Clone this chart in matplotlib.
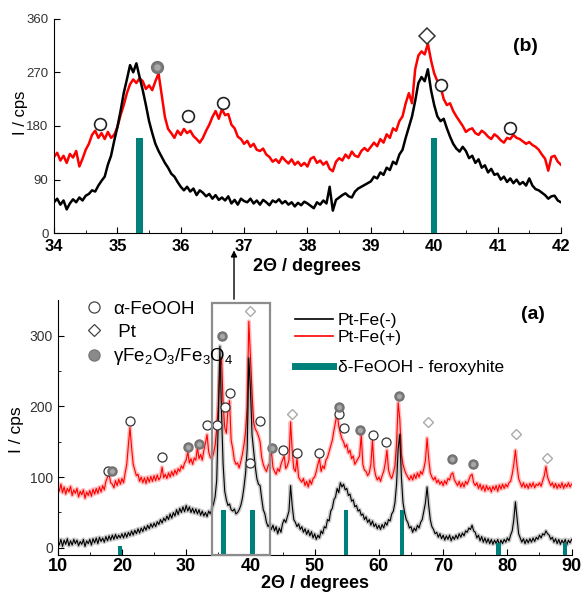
"""XRD patterns of Pt-Fe(-) and Pt-Fe(+) with a zoom on the 34-42 deg window."""

import matplotlib

matplotlib.use("Agg")
import matplotlib.pyplot as plt
import numpy as np
from matplotlib.lines import Line2D
from matplotlib.patches import FancyArrowPatch, Rectangle

plt.rcParams["font.family"] = ["Liberation Sans", "DejaVu Sans"]
plt.rcParams["mathtext.default"] = "regular"

RED = "#ff0000"
TEAL = "#00807a"

# --- (b) zoomed window, 34-42 deg, 0.05 deg steps -------------------------
top_red = [
    128, 135, 122, 130, 118, 133, 127, 138, 112, 125,
    140, 150, 165, 172, 160, 168, 158, 170, 160, 165,
    178, 198, 215, 235, 250, 258, 252, 260, 255, 242,
    248, 240, 255, 268, 232, 195, 175, 168, 160, 172,
    165, 175, 168, 172, 163, 158, 152, 160, 172, 182,
    195, 205, 192, 208, 198, 200, 182, 176, 162, 158,
    150, 155, 145, 150, 140, 138, 142, 132, 128, 120,
    124, 118, 128, 122, 117, 124, 115, 120, 113, 118,
    112, 125, 128, 118, 122, 115, 120, 108, 104, 120,
    126, 122, 132, 126, 137, 130, 128, 138, 143, 138,
    145, 152, 146, 158, 152, 166, 160, 176, 172, 188,
    196, 218, 235, 218, 275, 298, 305, 300, 318, 290,
    268, 255, 246, 225, 215, 218, 205, 196, 188, 180,
    170, 174, 176, 168, 165, 172, 168, 162, 158, 166,
    162, 156, 152, 160, 158, 165, 160, 158, 154, 150,
    153, 148, 145, 140, 132, 125, 105, 128, 130, 120,
    115,
]
top_black = [
    52, 58, 48, 55, 40, 50, 57, 52, 60, 55,
    63, 66, 72, 70, 80, 88, 95, 115, 130, 155,
    178, 205, 235, 258, 282, 270, 285, 262, 240, 215,
    188, 168, 150, 138, 128, 118, 110, 100, 95, 86,
    78, 72, 78, 70, 75, 64, 72, 68, 62, 66,
    58, 64, 56, 60, 55, 62, 50, 56, 48, 58,
    54, 52, 58, 50, 55, 48, 56, 52, 47, 55,
    52, 57, 50, 54, 48, 52, 45, 51, 47, 53,
    50, 46, 42, 52, 48, 55, 50, 78, 38, 56,
    60, 64, 67, 62, 60, 70, 75, 78, 81, 84,
    87, 95, 92, 102, 98, 110, 106, 120, 116, 132,
    140, 160, 178, 196, 222, 252, 262, 255, 275, 240,
    215, 196, 188, 192, 176, 162, 150, 142, 137, 145,
    138, 126, 130, 118, 124, 110, 114, 102, 108, 98,
    100, 90, 95, 86, 92, 84, 90, 82, 86, 80,
    92, 80, 74, 72, 68, 64, 58, 62, 63, 55,
    52,
]

# --- (a) full scan, 10-90 deg, 0.25 deg steps ------------------------------
full_red = [
    88, 80, 90, 78, 86, 76, 84, 79, 87, 74, 82, 77, 84, 72, 80, 75, 82, 70, 79, 74,
    81, 73, 83, 76, 84, 77, 86, 79, 88, 82, 94, 100, 104, 92, 90, 85, 95, 88, 97, 90,
    98, 92, 106, 118, 145, 170, 142, 118, 110, 102, 104, 94, 100, 92, 99, 91, 100, 93, 101, 94,
    102, 95, 103, 96, 100, 114, 99, 104, 98, 106, 100, 108, 102, 110, 104, 112, 108, 116, 112, 120,
    124, 136, 120, 126, 118, 127, 124, 142, 126, 132, 124, 138, 148, 160, 136, 128, 126, 133, 145, 168,
    200, 255, 268, 205, 170, 162, 195, 208, 152, 140, 124, 118, 120, 113, 122, 132, 146, 165, 200, 320,
    272, 218, 178, 168, 164, 158, 150, 128, 118, 112, 108, 116, 120, 138, 114, 108, 104, 112, 108, 118,
    124, 130, 112, 116, 124, 178, 138, 112, 108, 126, 100, 96, 93, 98, 88, 94, 86, 96, 90, 98,
    100, 108, 118, 126, 108, 116, 112, 124, 128, 136, 144, 152, 166, 178, 190, 172, 162, 154, 150, 142,
    146, 134, 138, 126, 130, 118, 122, 126, 130, 160, 118, 110, 108, 102, 106, 118, 152, 114, 102, 96,
    100, 94, 102, 108, 120, 138, 110, 102, 98, 106, 116, 148, 205, 182, 132, 118, 110, 104, 100, 96,
    102, 96, 104, 98, 106, 100, 108, 104, 112, 124, 155, 126, 106, 100, 96, 100, 92, 96, 90, 94,
    88, 95, 90, 98, 96, 104, 106, 96, 92, 88, 94, 86, 92, 86, 94, 90, 96, 102, 104, 92,
    88, 92, 84, 90, 82, 88, 80, 88, 82, 86, 79, 87, 82, 88, 80, 89, 83, 90, 84, 90,
    86, 92, 94, 104, 118, 138, 116, 98, 92, 86, 92, 85, 90, 84, 91, 86, 92, 85, 90, 88,
    92, 87, 95, 102, 115, 100, 94, 88, 92, 85, 91, 84, 90, 85, 92, 84, 90, 86, 92, 86,
    90,
]
full_black = [
    10, 4, 12, 2, 11, 5, 13, 3, 10, 4, 12, 6, 11, 3, 9, 5, 12, 2, 10, 6,
    12, 4, 13, 7, 14, 6, 15, 9, 14, 8, 16, 10, 17, 11, 18, 12, 19, 13, 18, 14,
    20, 14, 21, 15, 22, 17, 24, 18, 25, 20, 27, 21, 28, 23, 30, 25, 32, 27, 34, 29,
    35, 30, 37, 33, 40, 35, 42, 38, 45, 40, 48, 42, 50, 45, 54, 47, 56, 50, 58, 51,
    60, 52, 58, 50, 56, 49, 55, 48, 54, 46, 52, 45, 50, 44, 52, 48, 55, 62, 72, 95,
    180, 285, 190, 118, 80, 68, 60, 62, 54, 52, 55, 48, 50, 54, 60, 70, 86, 106, 140, 268,
    225, 160, 138, 115, 98, 90, 88, 70, 54, 48, 36, 30, 34, 26, 32, 24, 30, 20, 28, 22,
    34, 40, 36, 44, 52, 88, 60, 40, 36, 30, 34, 26, 30, 22, 27, 19, 25, 17, 23, 14,
    20, 12, 18, 14, 24, 20, 30, 28, 40, 38, 52, 56, 68, 72, 84, 78, 92, 86, 90, 82,
    84, 74, 76, 66, 68, 58, 60, 52, 54, 46, 48, 40, 44, 36, 40, 32, 38, 30, 34, 27,
    32, 26, 33, 28, 36, 32, 40, 38, 48, 52, 64, 90, 140, 160, 100, 64, 50, 40, 36, 28,
    30, 22, 28, 24, 32, 28, 36, 40, 52, 64, 86, 60, 40, 30, 26, 20, 22, 15, 20, 13,
    18, 11, 17, 12, 18, 10, 16, 12, 18, 13, 20, 15, 21, 17, 24, 22, 28, 26, 32, 24,
    22, 14, 18, 10, 16, 8, 14, 7, 13, 6, 12, 5, 11, 6, 12, 4, 11, 6, 12, 8,
    14, 10, 18, 24, 40, 65, 42, 20, 14, 8, 13, 6, 12, 7, 13, 8, 14, 9, 15, 12,
    18, 14, 20, 18, 24, 20, 18, 12, 15, 8, 13, 6, 12, 5, 11, 6, 12, 4, 11, 7,
    12,
]

# delta-FeOOH (feroxyhite) reference lines
top_ref_pos = [35.35, 40.0]
top_ref_h = [160, 160]
full_ref_pos = [19.7, 35.8, 40.3, 54.9, 63.6, 78.6, 89.0]
full_ref_h = [3, 54, 54, 54, 54, 7, 7]

# phase markers, panel (b)
top_goethite_x = [34.72, 36.12, 36.67, 40.11, 41.19]
top_goethite_y = [183, 197, 218, 248, 176]
top_spinel_x = [35.63]
top_spinel_y = [278]
top_pt_x = [39.88]
top_pt_y = [331]

# phase markers, panel (a)
goethite_x = [17.8, 21.3, 26.2, 33.3, 34.75, 36.1, 36.8, 40.0, 41.5, 45.1,
              47.3, 50.7, 53.8, 54.6, 59.1, 61.1]
goethite_y = [109, 179, 129, 174, 174, 199, 219, 120, 179, 139,
              134, 134, 189, 169, 159, 149]
spinel_x = [18.4, 30.3, 32.0, 35.6, 43.3, 53.8, 57.1, 63.2, 71.4, 74.6]
spinel_y = [109, 143, 147, 300, 141, 199, 167, 215, 125, 118]
pt_x = [40.0, 46.4, 67.7, 81.4, 86.2]
pt_y = [335, 189, 178, 161, 127]

ZOOM_WINDOW = (34.0, 43.0)


def style_axes(ax):
    ax.spines["top"].set_visible(False)
    ax.spines["right"].set_visible(False)
    ax.tick_params(which="both", direction="in")
    ax.tick_params(which="major", length=4)
    ax.tick_params(which="minor", length=2.5)


def spheres(ax, xs, ys, size, zorder=4):
    """Grey shaded balls: a darker disc with a lighter core."""
    ax.plot(xs, ys, "o", ms=size, mfc="#7c7c7c", mec="#707070", zorder=zorder)
    ax.plot(xs, ys, "o", ms=size * 0.55, mfc="#a9a9a9", mec="none", zorder=zorder)


fig = plt.figure(figsize=(5.84, 5.98), dpi=100)
ax_b = fig.add_axes([0.0925, 0.6099, 0.868, 0.359])
ax_a = fig.add_axes([0.0988, 0.072, 0.880, 0.426])

# ---------------- panel (b) ----------------
x_top_red = np.linspace(34, 42, len(top_red))
x_top_black = np.linspace(34, 42, len(top_black))
ax_b.plot(x_top_red, top_red, color=RED, lw=1.8)
ax_b.plot(x_top_black, top_black, color="black", lw=1.8)
ax_b.bar(top_ref_pos, top_ref_h, width=0.1, color=TEAL, zorder=3)
ax_b.plot(top_goethite_x, top_goethite_y, "o", ms=8.5, mfc="white", mec="#222", mew=1.2)
spheres(ax_b, top_spinel_x, top_spinel_y, 8.5)
ax_b.plot(top_pt_x, top_pt_y, "D", ms=8, mfc="white", mec="#333", mew=1.1)
ax_b.set_xlim(34, 42)
ax_b.set_ylim(0, 360)
ax_b.set_xticks(np.arange(34, 43, 1))
ax_b.set_xticks(np.arange(34, 42.01, 0.5), minor=True)
ax_b.set_yticks(np.arange(0, 361, 90))
style_axes(ax_b)
ax_b.tick_params(axis="x", labelsize=12, pad=4)
ax_b.tick_params(axis="y", labelsize=9.5, labelcolor="#333", pad=4)
for lab in ax_b.get_xticklabels():
    lab.set_fontweight("bold")
ax_b.set_xlabel("2Θ / degrees", fontsize=13, fontweight="bold", labelpad=3)
ax_b.set_ylabel("I / cps", fontsize=12)
ax_b.yaxis.set_label_coords(-0.051, 0.56)
ax_b.text(0.93, 0.87, "(b)", transform=ax_b.transAxes, fontsize=14,
          fontweight="bold", ha="center", va="center")

# ---------------- panel (a) ----------------
x_full_red = np.linspace(10, 90, len(full_red))
x_full_black = np.linspace(10, 90, len(full_black))
ax_a.plot(x_full_red, full_red, color=RED, lw=3.0, alpha=0.25)
ax_a.plot(x_full_red, full_red, color=RED, lw=0.8)
ax_a.plot(x_full_black, full_black, color="black", lw=3.0, alpha=0.2)
ax_a.plot(x_full_black, full_black, color="black", lw=0.8)
ax_a.bar(full_ref_pos, np.array(full_ref_h) + 10, bottom=-10, width=0.7,
         color=TEAL, zorder=3)
ax_a.plot(goethite_x, goethite_y, "o", ms=6.5, mfc="white", mec="#333",
          mew=0.9, zorder=4)
spheres(ax_a, spinel_x, spinel_y, 6.5)
ax_a.plot(pt_x, pt_y, "D", ms=5.5, mfc="white", mec="#aaaaaa", mew=1.0, zorder=4)

ax_a.add_patch(Rectangle((ZOOM_WINDOW[0], -10), ZOOM_WINDOW[1] - ZOOM_WINDOW[0], 356,
                         fill=False, edgecolor="#8c8c8c", lw=1.6, zorder=5,
                         clip_on=False))

ax_a.set_xlim(10, 90)
ax_a.set_ylim(-10, 350)
ax_a.set_xticks(np.arange(10, 91, 10))
ax_a.set_xticks(np.arange(10, 91, 5), minor=True)
ax_a.set_yticks([0, 100, 200, 300])
ax_a.set_yticks([50, 150, 250], minor=True)
style_axes(ax_a)
ax_a.tick_params(axis="x", labelsize=13, pad=2)
ax_a.tick_params(axis="y", labelsize=10, labelcolor="#333")
for lab in ax_a.get_xticklabels():
    lab.set_fontweight("bold")
ax_a.set_xlabel("2Θ / degrees", fontsize=13, fontweight="bold", labelpad=0)
ax_a.set_ylabel("I / cps", fontsize=12.5)
ax_a.yaxis.set_label_coords(-0.066, 0.49)
ax_a.text(0.925, 0.945, "(a)", transform=ax_a.transAxes, fontsize=14,
          fontweight="bold", ha="center", va="center")

phase_handles = [
    Line2D([], [], ls="none", marker="o", ms=8, mfc="white", mec="#444", mew=0.9),
    Line2D([], [], ls="none", marker="D", ms=6.5, mfc="white", mec="#444", mew=0.9),
    Line2D([], [], ls="none", marker="o", ms=8, mfc="#8a8a8a", mec="#7a7a7a"),
]
phase_labels = ["α-FeOOH", " Pt", "γFe$_2$O$_3$/Fe$_3$O$_4$"]
leg1 = ax_a.legend(phase_handles, phase_labels, loc="upper left",
                   bbox_to_anchor=(0.052, 0.998), frameon=False, fontsize=13.5,
                   handlelength=1.0, handletextpad=0.55, labelspacing=0.3,
                   borderpad=0, borderaxespad=0)
ax_a.add_artist(leg1)

leg2 = ax_a.legend(
    [Line2D([], [], color="black", lw=1.2), Line2D([], [], color=RED, lw=1.2)],
    ["Pt-Fe(-)", "Pt-Fe(+)"], loc="upper left",
    bbox_to_anchor=(0.462, 0.952), frameon=False, fontsize=12.5,
    handlelength=2.2, handletextpad=0.25, labelspacing=0.12,
    borderpad=0, borderaxespad=0)
ax_a.add_artist(leg2)
ax_a.legend([Line2D([], [], color=TEAL, lw=5)], ["δ-FeOOH - feroxyhite"],
            loc="upper left", bbox_to_anchor=(0.462, 0.766), frameon=False,
            fontsize=12.5, handlelength=2.2, handletextpad=0.25,
            borderpad=0, borderaxespad=0)

# arrow from the zoom box up to panel (b)
fig.add_artist(FancyArrowPatch((0.4007, 0.495), (0.4007, 0.586),
                               transform=fig.transFigure, arrowstyle="-|>",
                               mutation_scale=9, color="black", lw=1.0))

fig.savefig("out.png", dpi=100)
